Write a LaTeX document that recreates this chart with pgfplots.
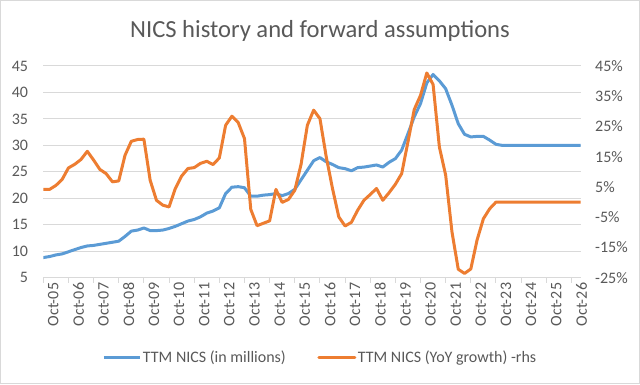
\documentclass[border=0pt]{standalone}
\usepackage{fontspec}
\setmainfont{Carlito}
\usepackage{pgfplots}
\usepackage{pgfplotstable}
\pgfplotsset{compat=1.18}
\definecolor{nblue}{HTML}{5B9BD5}
\definecolor{norange}{HTML}{ED7D31}
\definecolor{gridgrey}{HTML}{D9D9D9}
\definecolor{txtgrey}{HTML}{595959}

\pgfplotstableread{
t v
0 8.8
0.25 9.0
0.5 9.3
0.75 9.5
1.0 9.9
1.25 10.3
1.5 10.7
1.75 11.0
2.0 11.1
2.25 11.3
2.5 11.5
2.75 11.7
3.0 11.9
3.25 12.8
3.5 13.8
3.75 14.0
4.0 14.4
4.25 13.9
4.5 13.9
4.75 14.0
5.0 14.3
5.25 14.7
5.5 15.2
5.75 15.7
6.0 16.0
6.25 16.5
6.5 17.2
6.75 17.6
7.0 18.2
7.25 20.9
7.5 22.1
7.75 22.2
8.0 22.0
8.25 20.4
8.5 20.4
8.75 20.6
9.0 20.7
9.25 20.9
9.5 20.5
9.75 20.9
10.0 21.7
10.25 23.5
10.5 25.3
10.75 27.1
11.0 27.7
11.25 26.9
11.5 26.4
11.75 25.8
12.0 25.6
12.25 25.2
12.5 25.8
12.75 25.9
13.0 26.1
13.25 26.3
13.5 25.9
13.75 26.8
14.0 27.5
14.25 29.1
14.5 32.2
14.75 35.4
15.0 37.9
15.25 41.8
15.5 43.4
15.75 42.2
16.0 40.7
16.25 37.6
16.5 34.1
16.75 32.1
17.0 31.6
17.25 31.7
17.5 31.7
17.75 31.0
18.0 30.2
18.25 30.0
21.37 30.0
}\nicsabs

\pgfplotstableread{
t p
0 4.2
0.25 4.2
0.5 5.5
0.75 7.5
1.0 11.3
1.25 12.5
1.5 14.1
1.75 16.8
2.0 13.9
2.25 10.8
2.5 9.4
2.75 6.7
3.0 7.0
3.25 15.5
3.5 20.1
3.75 20.7
4.0 20.8
4.25 7.2
4.5 0.6
4.75 -1.0
5.0 -1.6
5.25 4.5
5.5 8.6
5.75 11.1
6.0 11.4
6.25 12.8
6.5 13.5
6.75 12.4
7.0 14.6
7.25 25.4
7.5 28.4
7.75 26.3
8.0 21.0
8.25 -2.4
8.5 -7.8
8.75 -7.0
9.0 -6.2
9.25 4.2
9.5 -0.1
9.75 0.9
10.0 3.9
10.25 12.5
10.5 25.4
10.75 30.4
11.0 27.6
11.25 15.0
11.5 4.5
11.75 -4.9
12.0 -7.9
12.25 -6.7
12.5 -2.7
12.75 0.6
13.0 2.5
13.25 4.5
13.5 0.6
13.75 3.1
14.0 5.9
14.25 9.4
14.5 19.9
14.75 30.6
15.0 35.3
15.25 42.7
15.5 38.9
15.75 18.2
16.0 8.9
16.25 -9.8
16.5 -22.2
16.75 -23.6
17.0 -22.1
17.25 -12.5
17.5 -5.5
17.75 -2.2
18.0 0.0
21.37 0.0
}\nicsyoy

\begin{document}
\begin{tikzpicture}[x=1bp,y=1bp]
\path[use as bounding box] (0,0) rectangle (640,384);
\draw[gridgrey, line width=1bp] (0.5,0.5) rectangle (639.5,383.5);
\node[anchor=base, text=txtgrey, font=\fontsize{24.6bp}{28bp}\selectfont, inner sep=0pt] at (320,346.7) {NICS history and forward assumptions};
\begin{axis}[
  at={(43.3bp,106.3bp)}, anchor=south west,
  scale only axis, width=537.4bp, height=211.7bp,
  xmin=0, xmax=21.37, ymin=5, ymax=45,
  axis x line*=bottom, axis y line*=left,
  y axis line style={draw=none},
  x axis line style={gridgrey, line width=1bp},
  xtick={0,...,21},
  xticklabels={Oct-05,Oct-06,Oct-07,Oct-08,Oct-09,Oct-10,Oct-11,Oct-12,Oct-13,Oct-14,Oct-15,Oct-16,Oct-17,Oct-18,Oct-19,Oct-20,Oct-21,Oct-22,Oct-23,Oct-24,Oct-25,Oct-26},
  ytick={5,10,...,45},
  yticklabels={5,10,15,20,25,30,35,40,45},
  ymajorgrids,
  major grid style={gridgrey, line width=1bp},
  xtick align=outside,
  major tick length=5bp,
  xtick style={gridgrey, line width=1bp},
  ytick style={draw=none},
  xticklabel style={rotate=90, anchor=east, inner sep=0pt, yshift=-10bp, font=\fontsize{16bp}{19bp}\selectfont, text=txtgrey},
  yticklabel style={anchor=east, inner sep=0pt, xshift=-15bp, font=\fontsize{16bp}{19bp}\selectfont, text=txtgrey},
]
\addplot[nblue, line width=3bp, line join=round, line cap=round] table[x=t, y=v] {\nicsabs};
\end{axis}
\begin{axis}[
  at={(43.3bp,106.3bp)}, anchor=south west,
  scale only axis, width=537.4bp, height=211.7bp,
  xmin=0, xmax=21.37, ymin=-25, ymax=45,
  axis x line=none, axis y line*=right,
  y axis line style={draw=none},
  ytick style={draw=none},
  ytick={-25,-15,...,45},
  yticklabels={-25\%,-15\%,-5\%,5\%,15\%,25\%,35\%,45\%},
  yticklabel style={anchor=west, inner sep=0pt, xshift=14.3bp, font=\fontsize{16bp}{19bp}\selectfont, text=txtgrey},
  legend columns=2,
  legend image code/.code={\draw[#1] (0bp,0bp) -- (36bp,0bp);},
  legend style={draw=none, fill=none, at={(0.515,-0.378)}, anchor=center,
    font=\fontsize{16bp}{19bp}\selectfont, text=txtgrey,
    nodes={inner sep=1.5bp},
    /tikz/every even column/.append style={column sep=30bp}},
]
\addlegendimage{nblue, line width=3bp}
\addlegendentry{TTM NICS (in millions)}
\addplot[norange, line width=3bp, line join=round, line cap=round] table[x=t, y=p] {\nicsyoy};
\addlegendentry{TTM NICS (YoY growth) -rhs}
\end{axis}
\end{tikzpicture}
\end{document}
